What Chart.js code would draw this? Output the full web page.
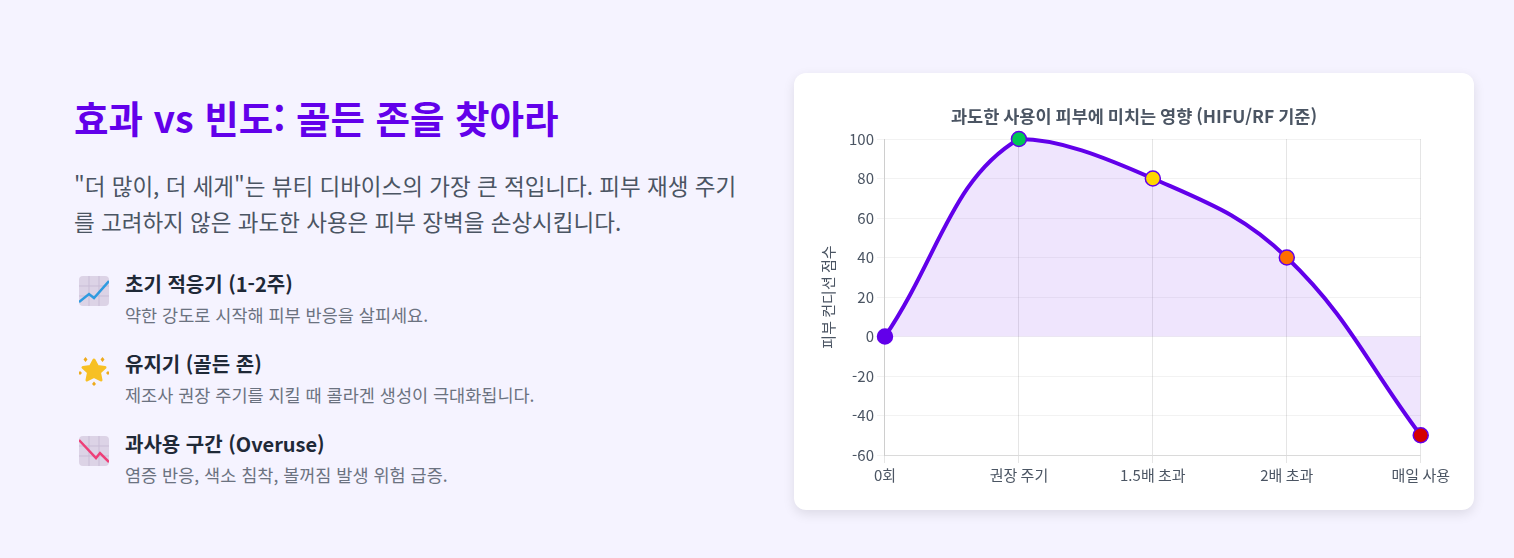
<!DOCTYPE html>
<html lang="ko">
<head>
  <meta charset="UTF-8">
  <title>효과 vs 빈도</title>
  <script src="https://cdn.jsdelivr.net/npm/chart.js"></script>
  <style>
    * { box-sizing: border-box; }
    html, body { margin: 0; height: 558px; overflow: hidden; }
    body {
      position: relative;
      width: 1514px;
      background: #f5f3ff;
      font-family: "Noto Sans CJK KR", "Noto Sans", sans-serif;
    }
    #left { position: absolute; left: 74px; top: 89px; width: 680px; }
    h1 { margin: 0; font-size: 37.5px; line-height: 56px; font-weight: 700; color: #6200ea; }
    #intro { margin: 22px 0 0; font-size: 22.5px; line-height: 36px; color: #4b5563; width: 670px; }
    .item { position: absolute; left: 0; display: flex; }
    .icon { width: 30px; height: 30px; margin: 6px 16px 0 5px; }
    .item b { display: block; font-size: 20px; line-height: 28px; font-weight: 700; color: #1f2937; }
    .item span { display: block; font-size: 17.5px; line-height: 26px; color: #6b7280; margin-top: 4px; }
    #card {
      position: absolute; left: 794px; top: 73px; width: 680px; height: 437px;
      background: #fff; border-radius: 12px;
      box-shadow: 0 4px 12px rgba(0, 0, 0, 0.1);
    }
    #wrap { position: absolute; left: 21px; top: 24px; width: 638px; height: 390px; }
  </style>
</head>
<body>

  <div id="left">
    <h1>효과 vs 빈도: 골든 존을 찾아라</h1>
    <p id="intro">"더 많이, 더 세게"는 뷰티 디바이스의 가장 큰 적입니다. 피부 재생 주기를 고려하지 않은 과도한 사용은 피부 장벽을 손상시킵니다.</p>
    <div class="item" style="top:181px">
      <svg class="icon" viewBox="0 0 30 30">
        <rect width="30" height="30" rx="4" fill="#dcd3e6"/>
        <path d="M10 0V30M20 0V30M0 10H30M0 20H30" stroke="#c9bdd6" stroke-width="1" fill="none"/>
        <path d="M0 26L10 18L15 22L30 5" stroke="#2f9be0" stroke-width="2.500" fill="none"/>
      </svg>
      <div><b>초기 적응기 (1-2주)</b><span>약한 강도로 시작해 피부 반응을 살피세요.</span></div>
    </div>
    <div class="item" style="top:261px">
      <svg class="icon" viewBox="0 0 30 30">
        <path d="M15 4L18.500 10.500L26 11.500L20.500 16.500L22 24L15 20.500L8 24L9.500 16.500L4 11.500L11.500 10.500Z" fill="#f7c024" stroke="#f7c024" stroke-width="3" stroke-linejoin="round"/>
        <path d="M6.500 1L8.500 3.500L6.500 6L4.500 3.500ZM23.500 1L25.500 3.500L23.500 6L21.500 3.500ZM1 15L3 17L1 19L-1 17ZM29 15L31 17L29 19L27 17ZM15 25.500L17 28L15 30L13 28Z" fill="#eeaa1c"/>
      </svg>
      <div><b>유지기 (골든 존)</b><span>제조사 권장 주기를 지킬 때 콜라겐 생성이 극대화됩니다.</span></div>
    </div>
    <div class="item" style="top:341px">
      <svg class="icon" viewBox="0 0 30 30">
        <rect width="30" height="30" rx="4" fill="#dcd3e6"/>
        <path d="M10 0V30M20 0V30M0 10H30M0 20H30" stroke="#c9bdd6" stroke-width="1" fill="none"/>
        <path d="M0 4L17 22L21 17L30 26" stroke="#ee3f78" stroke-width="2.500" fill="none"/>
      </svg>
      <div><b>과사용 구간 (Overuse)</b><span>염증 반응, 색소 침착, 볼꺼짐 발생 위험 급증.</span></div>
    </div>
  </div>

  <div id="card"><div id="wrap"><canvas id="grafico"></canvas></div></div>

  <script>
    const categories = ["0회", "권장 주기", "1.5배 초과", "2배 초과", "매일 사용"];
    const scores = [0, 100, 80, 40, -50];
    const pointColors = ["#6200ea", "#00c853", "#ffd600", "#ff6d00", "#d50000"];
    const seriesName = "피부 컨디션 점수";
    const chartTitle = "과도한 사용이 피부에 미치는 영향 (HIFU/RF 기준)";

    const fonte = "'Noto Sans CJK KR', 'Noto Sans', sans-serif";

    new Chart(document.getElementById("grafico"), {
      type: "line",
      data: {
        labels: categories,
        datasets: [{
          label: seriesName,
          data: scores,
          borderColor: "#6200ea",
          backgroundColor: "rgba(98, 0, 234, 0.1)",
          borderWidth: 4,
          tension: 0.4,
          fill: true,
          pointRadius: 7.5,
          pointHoverRadius: 7.5,
          pointBorderWidth: 1.5,
          pointBorderColor: "#6200ea",
          pointBackgroundColor: pointColors
        }]
      },
      options: {
        responsive: true,
        maintainAspectRatio: false,
        animation: false,
        plugins: {
          legend: { display: false },
          title: {
            display: true,
            text: chartTitle,
            color: "#4b5563",
            padding: { top: 9, bottom: 12 },
            font: { family: fonte, size: 17.5, weight: "bold" }
          }
        },
        scales: {
          x: {
            ticks: { color: "#4b5563", font: { family: fonte, size: 15 } }
          },
          y: {
            grid: { color: "rgba(0, 0, 0, 0.05)" },
            ticks: { stepSize: 20, color: "#4b5563", font: { family: fonte, size: 15 } },
            title: {
              display: true,
              text: seriesName,
              color: "#4b5563",
              padding: { top: 4, bottom: 9 },
              font: { family: fonte, size: 15 }
            }
          }
        }
      }
    });
  </script>

</body>
</html>
